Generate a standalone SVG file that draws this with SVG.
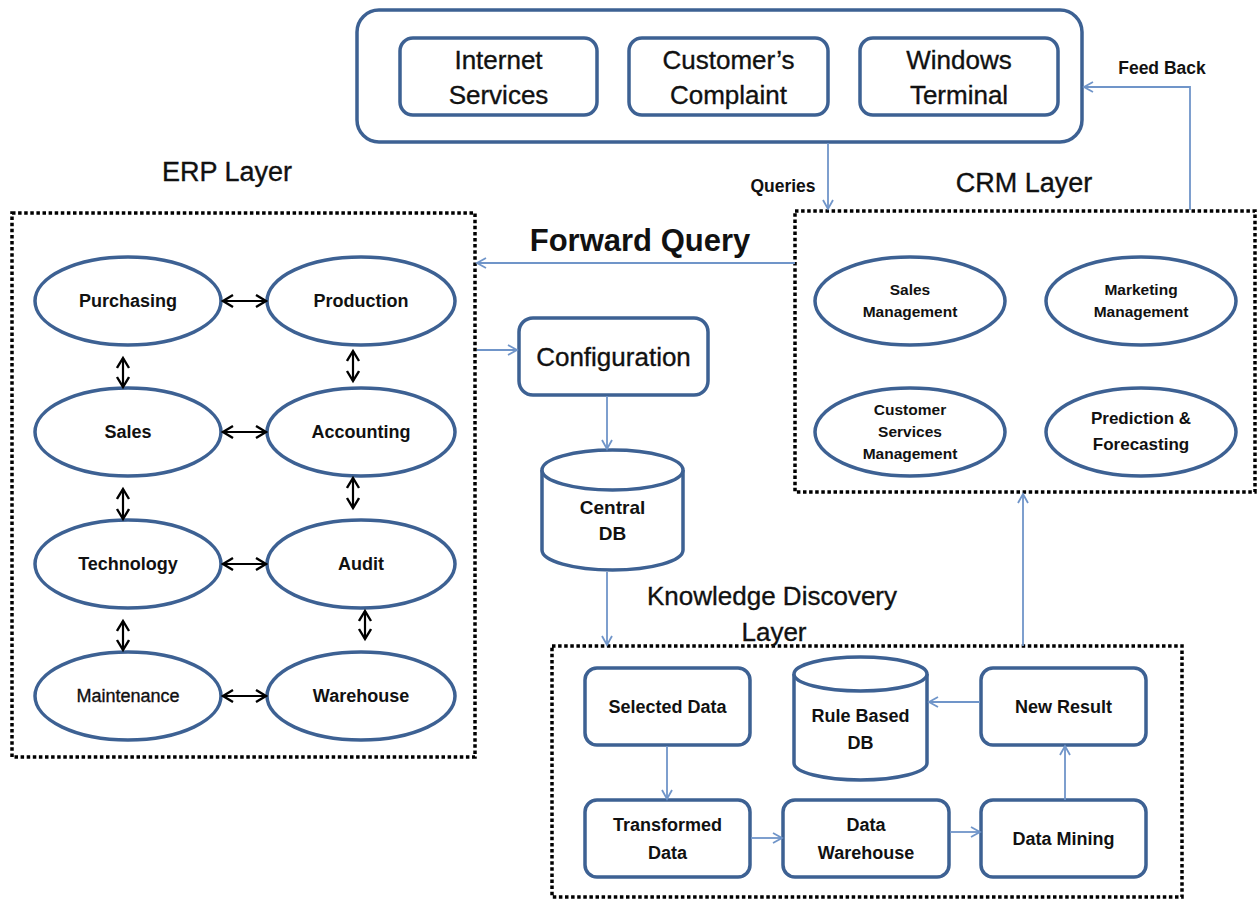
<svg xmlns="http://www.w3.org/2000/svg" width="1258" height="901" viewBox="0 0 1258 901">
<style>
  text { font-family: "Liberation Sans", Arial, sans-serif; fill: #111; text-anchor: middle; }
  .node { fill: #fff; stroke: #3d6193; stroke-width: 3.5; }
  .layer { fill: none; stroke: #000; stroke-width: 3.5; stroke-dasharray: 3.5 2.6; }
  .conn { fill: none; stroke: #7095c9; stroke-width: 1.8; }
  .dbl { fill: none; stroke: #000; stroke-width: 2.2; }
  .b { font-weight: bold; }
  .m { stroke: #111; stroke-width: 0.35; }
  .t26 { font-size: 26px; }
  .t18 { font-size: 18px; }
  .t16 { font-size: 15.5px; }
  .t17 { font-size: 17px; }
</style>
<defs>
  <marker id="ah" markerUnits="userSpaceOnUse" markerWidth="14" markerHeight="14" refX="10" refY="6" orient="auto">
    <path d="M1,1 L10,6 L1,11" fill="none" stroke="#7095c9" stroke-width="1.8"/>
  </marker>
  <marker id="bk" markerUnits="userSpaceOnUse" markerWidth="16" markerHeight="16" refX="11" refY="7" orient="auto-start-reverse">
    <path d="M1,1 L11,7 L1,13" fill="none" stroke="#000" stroke-width="2.4"/>
  </marker>
</defs>

<!-- Layer frames -->
<g id="channels">
  <rect x="357" y="10" width="725" height="132" rx="22" class="node"/>
</g>
<g id="erp-layer">
  <rect x="12" y="213" width="463" height="544" class="layer"/>
  <text x="227" y="181" class="m" style="font-size:27px">ERP Layer</text>
</g>
<g id="crm-layer">
  <rect x="795" y="211" width="460" height="281" class="layer"/>
  <text x="1024" y="192" class="m" style="font-size:27px">CRM Layer</text>
</g>
<g id="kd-layer">
  <rect x="552" y="646" width="630" height="251" class="layer"/>
  <text x="772" y="605" class="t26 m">Knowledge Discovery</text>
  <text x="774" y="641" class="t26 m">Layer</text>
</g>

<!-- Top nodes -->
<g id="internet-services">
  <rect x="400" y="38" width="197" height="77" rx="13" class="node"/>
  <text x="498.5" y="69" class="t26 m">Internet</text>
  <text x="498.5" y="104" class="t26 m">Services</text>
</g>
<g id="customers-complaint">
  <rect x="629" y="38" width="199" height="77" rx="13" class="node"/>
  <text x="728.5" y="69" class="t26 m">Customer’s</text>
  <text x="728.5" y="104" class="t26 m">Complaint</text>
</g>
<g id="windows-terminal">
  <rect x="860" y="38" width="198" height="77" rx="13" class="node"/>
  <text x="959" y="69" class="t26 m">Windows</text>
  <text x="959" y="104" class="t26 m">Terminal</text>
</g>

<!-- ERP nodes -->
<g id="purchasing"><ellipse cx="128" cy="301" rx="93" ry="44" class="node"/><text x="128" y="307" class="t18 b">Purchasing</text></g>
<g id="production"><ellipse cx="361" cy="301" rx="94" ry="44" class="node"/><text x="361" y="307" class="t18 b">Production</text></g>
<g id="sales"><ellipse cx="128" cy="432" rx="93" ry="44" class="node"/><text x="128" y="438" class="t18 b">Sales</text></g>
<g id="accounting"><ellipse cx="361" cy="432" rx="94" ry="44" class="node"/><text x="361" y="438" class="t18 b">Accounting</text></g>
<g id="technology"><ellipse cx="128" cy="564" rx="93" ry="44" class="node"/><text x="128" y="570" class="t18 b">Technology</text></g>
<g id="audit"><ellipse cx="361" cy="564" rx="94" ry="44" class="node"/><text x="361" y="570" class="t18 b">Audit</text></g>
<g id="maintenance"><ellipse cx="128" cy="696" rx="93" ry="44" class="node"/><text x="128" y="702" class="t18 m">Maintenance</text></g>
<g id="warehouse"><ellipse cx="361" cy="696" rx="94" ry="44" class="node"/><text x="361" y="702" class="t18 b">Warehouse</text></g>

<!-- CRM nodes -->
<g id="sales-management"><ellipse cx="910" cy="301" rx="95" ry="44" class="node"/><text x="910" y="295" class="t16 b">Sales</text><text x="910" y="317" class="t16 b">Management</text></g>
<g id="marketing-management"><ellipse cx="1141" cy="301" rx="95" ry="44" class="node"/><text x="1141" y="295" class="t16 b">Marketing</text><text x="1141" y="317" class="t16 b">Management</text></g>
<g id="customer-services-management"><ellipse cx="910" cy="432" rx="95" ry="44" class="node"/><text x="910" y="415" class="t16 b">Customer</text><text x="910" y="437" class="t16 b">Services</text><text x="910" y="459" class="t16 b">Management</text></g>
<g id="prediction-forecasting"><ellipse cx="1141" cy="432" rx="95" ry="44" class="node"/><text x="1141" y="424" class="t17 b">Prediction &amp;</text><text x="1141" y="450" class="t17 b">Forecasting</text></g>

<!-- Middle nodes -->
<g id="configuration">
  <rect x="519" y="318" width="189" height="77" rx="14" class="node"/>
  <text x="613.5" y="366" class="t26 m">Configuration</text>
</g>
<g id="central-db">
  <path d="M542,470 L542,550 A70.5,20 0 0 0 683,550 L683,470" class="node"/>
  <ellipse cx="612.5" cy="470" rx="70.5" ry="20" class="node"/>
  <text x="612.5" y="514" class="t18 b" style="font-size:19px">Central</text>
  <text x="612.5" y="540" class="t18 b" style="font-size:19px">DB</text>
</g>

<!-- KD nodes -->
<g id="selected-data"><rect x="585" y="668" width="165" height="77" rx="12" class="node"/><text x="667.5" y="713" class="t18 b">Selected Data</text></g>
<g id="rule-based-db">
  <path d="M794,674 L794,763 A66.5,17 0 0 0 927,763 L927,674" class="node"/>
  <ellipse cx="860.5" cy="674" rx="66.5" ry="17" class="node"/>
  <text x="860.5" y="722" class="t18 b">Rule Based</text>
  <text x="860.5" y="749" class="t18 b">DB</text>
</g>
<g id="new-result"><rect x="981" y="668" width="165" height="77" rx="12" class="node"/><text x="1063.5" y="713" class="t18 b">New Result</text></g>
<g id="transformed-data"><rect x="585" y="800" width="165" height="77" rx="12" class="node"/><text x="667.5" y="831" class="t18 b">Transformed</text><text x="667.5" y="859" class="t18 b">Data</text></g>
<g id="data-warehouse"><rect x="783" y="800" width="166" height="77" rx="12" class="node"/><text x="866" y="831" class="t18 b">Data</text><text x="866" y="859" class="t18 b">Warehouse</text></g>
<g id="data-mining"><rect x="981" y="800" width="165" height="77" rx="12" class="node"/><text x="1063.5" y="845" class="t18 b">Data Mining</text></g>

<!-- Connectors -->
<g id="connectors">
  <path d="M828,143 L828,209" class="conn" marker-end="url(#ah)"/>
  <text x="783" y="192" class="b" style="font-size:17.5px">Queries</text>
  <path d="M1190,210 L1190,87 L1084,87" class="conn" marker-end="url(#ah)"/>
  <text x="1162" y="74" class="b" style="font-size:17.5px">Feed Back</text>
  <path d="M795,263 L477,263" class="conn" marker-end="url(#ah)"/>
  <text x="640" y="251" class="b" style="font-size:31px">Forward Query</text>
  <path d="M477,350 L517,350" class="conn" marker-end="url(#ah)"/>
  <path d="M607,396 L607,449" class="conn" marker-end="url(#ah)"/>
  <path d="M607,572 L607,645" class="conn" marker-end="url(#ah)"/>
  <path d="M1023,646 L1023,494" class="conn" marker-end="url(#ah)"/>
  <path d="M667,746 L667,799" class="conn" marker-end="url(#ah)"/>
  <path d="M751,838 L782,838" class="conn" marker-end="url(#ah)"/>
  <path d="M950,832 L980,832" class="conn" marker-end="url(#ah)"/>
  <path d="M1065,800 L1065,746" class="conn" marker-end="url(#ah)"/>
  <path d="M980,702 L929,702" class="conn" marker-end="url(#ah)"/>
  <path d="M223,301 L266,301" class="dbl" marker-start="url(#bk)" marker-end="url(#bk)"/>
  <path d="M223,432 L266,432" class="dbl" marker-start="url(#bk)" marker-end="url(#bk)"/>
  <path d="M223,564 L266,564" class="dbl" marker-start="url(#bk)" marker-end="url(#bk)"/>
  <path d="M223,696 L266,696" class="dbl" marker-start="url(#bk)" marker-end="url(#bk)"/>
  <path d="M123,358 L123,387" class="dbl" marker-start="url(#bk)" marker-end="url(#bk)"/>
  <path d="M353,351 L353,381" class="dbl" marker-start="url(#bk)" marker-end="url(#bk)"/>
  <path d="M123,489 L123,519" class="dbl" marker-start="url(#bk)" marker-end="url(#bk)"/>
  <path d="M353,478 L353,508" class="dbl" marker-start="url(#bk)" marker-end="url(#bk)"/>
  <path d="M123,621 L123,650" class="dbl" marker-start="url(#bk)" marker-end="url(#bk)"/>
  <path d="M365,611 L365,639" class="dbl" marker-start="url(#bk)" marker-end="url(#bk)"/>
</g>
</svg>
